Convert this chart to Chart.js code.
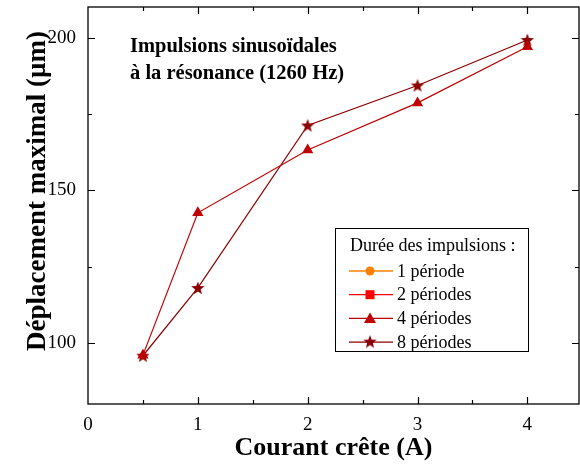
<!DOCTYPE html>
<html>
<head>
<meta charset="utf-8">
<script src="https://cdn.jsdelivr.net/npm/chart.js@4/dist/chart.umd.min.js"></script>
<style>
  html, body { margin: 0; padding: 0; background: #fff; }
  #wrap { width: 580px; height: 466px; }
</style>
</head>
<body>
<div id="wrap"><canvas id="c" width="580" height="466"></canvas></div>
<script>
// données
const courant = [0.5, 1, 2, 3, 4];
const per1 = [];
const per2 = [];
const per4 = [96, 142.6, 163.2, 178.6, 197];
const per8 = [95.8, 118, 171.2, 184.3, 199.2];

const seriesNames = ['1 période', '2 périodes', '4 périodes', '8 périodes'];
const titleLines = ['Impulsions sinusoïdales', 'à la résonance (1260 Hz)'];
const legendTitle = 'Durée des impulsions :';
const yTitle = 'Déplacement maximal (µm)';

const SERIF = '"Liberation Serif", "DejaVu Serif", serif';

// étoile pleine à 5 branches pour "8 périodes"
function makeStar(size, color) {
    const cv = document.createElement('canvas');
    cv.width = size; cv.height = size;
    const g = cv.getContext('2d');
    const cx = size / 2, cy = size / 2 + 0.5, R = size / 2, r = R * 0.42;
    g.beginPath();
    for (let i = 0; i < 10; i++) {
        const a = -Math.PI / 2 + i * Math.PI / 5;
        const rr = i % 2 === 0 ? R : r;
        g.lineTo(cx + rr * Math.cos(a), cy + rr * Math.sin(a));
    }
    g.closePath();
    g.fillStyle = color;
    g.fill();
    return cv;
}

const pts = (ys) => ys.map((y, i) => ({ x: courant[i], y: y }));

const colors = ['#ff8000', '#ff0000', '#c00000', '#8b0000'];
const star = makeStar(14, colors[3]);

function noPad(s) {
    s.paddingTop = 0; s.paddingBottom = 0; s.paddingLeft = 0; s.paddingRight = 0;
}

// cadre, graduations vers l'intérieur, titres et légende
const decor = {
    id: 'decor',
    afterDraw(chart) {
        const ctx = chart.ctx;
        const a = chart.chartArea;
        const xs = chart.scales.x, ys = chart.scales.y;
        ctx.save();
        ctx.strokeStyle = '#000';
        ctx.lineWidth = 1.3;
        ctx.strokeRect(a.left, a.top, a.right - a.left, a.bottom - a.top);
        ctx.lineWidth = 1.2;
        ctx.beginPath();
        for (let v = 0.5; v <= 4.5; v += 0.5) {
            const px = Math.round(xs.getPixelForValue(v)) + 0.5;
            if (px > a.right - 1) continue;
            const len = (v % 1 === 0) ? 7 : 4;
            ctx.moveTo(px, a.bottom); ctx.lineTo(px, a.bottom - len);
            ctx.moveTo(px, a.top); ctx.lineTo(px, a.top + len);
        }
        for (let v = 100; v <= 200; v += 25) {
            const py = Math.round(ys.getPixelForValue(v)) + 0.5;
            const len = (v % 50 === 0) ? 7 : 4;
            ctx.moveTo(a.left, py); ctx.lineTo(a.left + len, py);
            ctx.moveTo(a.right, py); ctx.lineTo(a.right - len, py);
        }
        ctx.stroke();

        // titre de l'axe y
        ctx.fillStyle = '#000';
        ctx.save();
        ctx.translate(38, 191);
        ctx.rotate(-Math.PI / 2);
        ctx.font = 'bold 27px ' + SERIF;
        ctx.textAlign = 'center';
        ctx.textBaseline = 'middle';
        ctx.fillText(yTitle, 0, 0);
        ctx.restore();

        // titre
        ctx.font = 'bold 20.5px ' + SERIF;
        ctx.textBaseline = 'middle';
        ctx.textAlign = 'left';
        ctx.fillText(titleLines[0], a.left + 42, a.top + 40);
        ctx.fillText(titleLines[1], a.left + 42, a.top + 67);

        // légende
        const bx = 335, by = 228, bw = 193, bh = 123;
        ctx.fillStyle = '#fff';
        ctx.fillRect(bx, by, bw, bh);
        ctx.lineWidth = 1;
        ctx.strokeStyle = '#000';
        ctx.strokeRect(bx + 0.5, by + 0.5, bw, bh);
        ctx.fillStyle = '#000';
        ctx.font = '18px ' + SERIF;
        ctx.fillText(legendTitle, bx + 15, by + 18);
        chart.data.datasets.forEach((ds, i) => {
            const yy = by + 43 + i * 23.7;
            ctx.strokeStyle = ds.borderColor;
            ctx.lineWidth = 1.3;
            ctx.beginPath();
            ctx.moveTo(bx + 14, yy); ctx.lineTo(bx + 58, yy);
            ctx.stroke();
            const cx = bx + 35;
            ctx.fillStyle = ds.backgroundColor;
            if (ds.pointStyle === 'circle') {
                ctx.beginPath(); ctx.arc(cx, yy, 4.5, 0, Math.PI * 2); ctx.fill();
            } else if (ds.pointStyle === 'rect') {
                ctx.fillRect(cx - 4.5, yy - 4.5, 9, 9);
            } else if (ds.pointStyle === 'triangle') {
                ctx.beginPath();
                ctx.moveTo(cx, yy - 6); ctx.lineTo(cx + 6, yy + 4.5); ctx.lineTo(cx - 6, yy + 4.5);
                ctx.closePath(); ctx.fill();
            } else {
                ctx.drawImage(ds.pointStyle, cx - 7, yy - 7.5);
            }
            ctx.fillStyle = '#000';
            ctx.fillText(ds.label, bx + 62, yy + 1);
        });
        ctx.restore();
    }
};

new Chart(document.getElementById('c'), {
    type: 'line',
    data: {
        datasets: [
            { label: seriesNames[0], data: pts(per1), borderColor: colors[0], backgroundColor: colors[0], pointStyle: 'circle', pointRadius: 4.5 },
            { label: seriesNames[1], data: pts(per2), borderColor: colors[1], backgroundColor: colors[1], pointStyle: 'rect', pointRadius: 4.5 },
            { label: seriesNames[2], data: pts(per4), borderColor: colors[2], backgroundColor: colors[2], pointStyle: 'triangle', pointRadius: 6.5 },
            { label: seriesNames[3], data: pts(per8), borderColor: colors[3], backgroundColor: colors[3], pointStyle: star, pointRadius: 7 }
        ]
    },
    options: {
        responsive: false,
        animation: false,
        events: [],
        layout: { autoPadding: false, padding: { top: 7, right: 1, left: 0, bottom: 0 } },
        elements: {
            line: { borderWidth: 1.2, tension: 0 },
            point: { borderWidth: 0 }
        },
        plugins: {
            legend: { display: false },
            tooltip: { enabled: false }
        },
        scales: {
            x: {
                type: 'linear',
                min: 0, max: 4.47,
                afterFit: (s) => { s.height = 62; noPad(s); },
                afterBuildTicks: (s) => { s.ticks = [0, 1, 2, 3, 4].map(v => ({ value: v })); },
                grid: { display: false, drawTicks: false },
                border: { display: false },
                ticks: { color: '#000', padding: 10, font: { family: SERIF, size: 19 }, maxRotation: 0 },
                title: { display: true, text: 'Courant crête (A)', color: '#000', padding: { top: 0, bottom: 2 }, font: { family: SERIF, size: 26, weight: 'bold' } }
            },
            y: {
                min: 80, max: 210,
                afterFit: (s) => { s.width = 88; noPad(s); },
                afterBuildTicks: (s) => { s.ticks = [100, 150, 200].map(v => ({ value: v })); },
                grid: { display: false, drawTicks: false },
                border: { display: false },
                ticks: { color: '#000', padding: 12, font: { family: SERIF, size: 19 } },
                title: { display: false }
            }
        }
    },
    plugins: [decor]
});
</script>
</body>
</html>
